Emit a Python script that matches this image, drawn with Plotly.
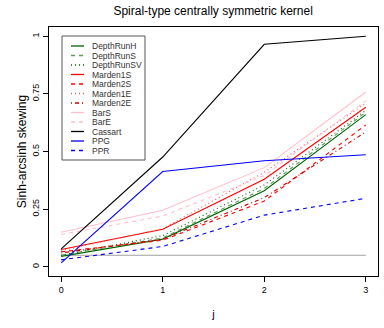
import plotly.graph_objects as go

j = [0, 1, 2, 3]

names = ["DepthRunH", "DepthRunS", "DepthRunSV", "Marden1S", "Marden2S",
         "Marden1E", "Marden2E", "BarS", "BarE", "Cassart", "PPG", "PPR"]

depth_run_h = [0.045, 0.120, 0.330, 0.660]
depth_run_s = [0.050, 0.125, 0.340, 0.670]
depth_run_sv = [0.050, 0.135, 0.355, 0.678]
marden_1s = [0.075, 0.163, 0.380, 0.692]
marden_2s = [0.065, 0.115, 0.285, 0.615]
marden_1e = [0.070, 0.165, 0.410, 0.710]
marden_2e = [0.060, 0.120, 0.300, 0.585]
bar_s = [0.150, 0.245, 0.430, 0.758]
bar_e = [0.140, 0.220, 0.395, 0.720]
cassart = [0.078, 0.476, 0.965, 1.000]
ppg = [0.017, 0.413, 0.460, 0.486]
ppr = [0.030, 0.088, 0.224, 0.297]
nominal = [0.05, 0.05, 0.05, 0.05]

series = [depth_run_h, depth_run_s, depth_run_sv, marden_1s, marden_2s,
          marden_1e, marden_2e, bar_s, bar_e, cassart, ppg, ppr]

colors = ["darkgreen", "#5a9e5a", "darkgreen", "red", "red", "#ff5050", "#cc0000",
          "pink", "pink", "black", "blue", "blue"]
dashes = ["solid", "4px,4px", "1px,3px", "solid", "4px,4px", "1px,3px", "1px,3px,4px,3px",
          "solid", "4px,4px", "solid", "solid", "4px,4px"]

fig = go.Figure()

# grey reference line
fig.add_trace(go.Scatter(x=j, y=nominal, mode="lines", showlegend=False,
                         line=dict(color="#a0a0a0", width=1)))

for name, ys, c, d in zip(names, series, colors, dashes):
    fig.add_trace(go.Scatter(x=j, y=ys, mode="lines", name=name, showlegend=False,
                             line=dict(color=c, width=1.1, dash=d)))

# R-style legend box (plotly's own legend rows are too tall for 12 entries here)
L, R, T, B = 49, 378, 27, 276          # plot area in pixels
px = lambda v: (v - L) / (R - L)
py = lambda v: (B - v) / (B - T)

shapes = [dict(type="rect", xref="paper", yref="paper", x0=px(62), x1=px(145),
               y0=py(160), y1=py(36), line=dict(color="#555555", width=1),
               fillcolor="white", layer="above")]
annotations = []
for i, (name, c, d) in enumerate(zip(names, colors, dashes)):
    yy = 46 + i * 9.5
    shapes.append(dict(type="line", xref="paper", yref="paper", x0=px(71), x1=px(84),
                       y0=py(yy), y1=py(yy), line=dict(color=c, width=1.3, dash=d),
                       layer="above"))
    annotations.append(dict(x=px(90), y=py(yy), xref="paper", yref="paper", text=name,
                            showarrow=False, xanchor="left", yanchor="middle",
                            font=dict(size=8.5, color="#333333")))

axis_style = dict(showline=True, mirror=True, linecolor="black", linewidth=1,
                  ticks="outside", ticklen=5, tickcolor="black", showgrid=False,
                  zeroline=False, automargin=False, tickfont=dict(size=9, color="black"))

fig.update_layout(
    width=384, height=328,
    margin=dict(l=L, r=384 - R, t=T, b=328 - B),
    paper_bgcolor="white", plot_bgcolor="white",
    font=dict(family="Liberation Sans, Arial, sans-serif", color="black"),
    title=dict(text="Spiral-type centrally symmetric kernel", x=0.555, xanchor="center",
               y=0.98, yanchor="top", font=dict(size=12)),
    xaxis=dict(range=[-0.12, 3.12], tickvals=[0, 1, 2, 3],
               title=dict(text="j", font=dict(size=11), standoff=16), **axis_style),
    yaxis=dict(range=[-0.04, 1.04], tickvals=[0, 0.25, 0.5, 0.75, 1],
               ticktext=["0", "0.25", "0.5", "0.75", "1"], tickangle=-90,
               title=dict(text="Sinh-arcsinh skewing", font=dict(size=12), standoff=2),
               **axis_style),
    shapes=shapes,
    annotations=annotations,
)

# drop the browser's default 8px page margin so the figure sits at the window corner
fig.write_html("out.html", config={"displayModeBar": False},
               post_script="document.body.style.margin='0';")
